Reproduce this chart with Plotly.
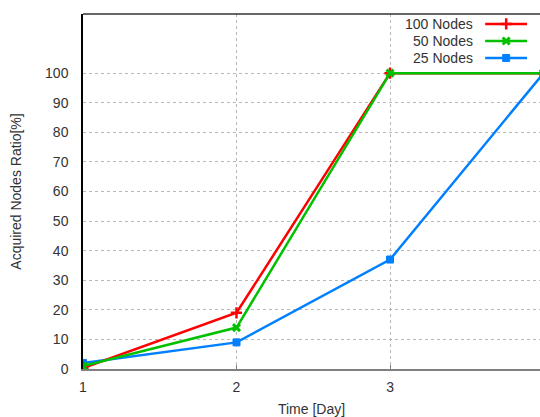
import plotly.graph_objects as go

days = [1, 2, 3, 4]
series_names = ["100 Nodes", "50 Nodes", "25 Nodes"]
nodes100 = [0.3, 19, 100, 100]
nodes50 = [1, 14, 100, 100]
nodes25 = [2, 9, 37, 100]
y_ticks = [0, 10, 20, 30, 40, 50, 60, 70, 80, 90, 100]
x_ticks = [1, 2, 3, 4]

colors = ["#ff0000", "#00c000", "#0080ff"]
symbols = ["cross-thin-open", "x-thin-open", "square"]
msizes = [8, 7, 7]
mlw = [2.5, 3, 1]

fig = go.Figure()
order = [2, 0, 1]
values = [nodes100, nodes50, nodes25]
for i in order:
    fig.add_trace(go.Scatter(
        x=days, y=values[i], mode="lines+markers", name=series_names[i],
        line=dict(color=colors[i], width=2.5),
        marker=dict(symbol=symbols[i], size=msizes[i], color=colors[i],
                    line=dict(color=colors[i], width=mlw[i])),
        showlegend=False, cliponaxis=True))

# gnuplot-like legend (text left of the sample) on overlay axes
leg_y = [0.972, 0.924, 0.876]
for i in range(3):
    fig.add_trace(go.Scatter(
        x=[0.880, 0.9716], y=[leg_y[i], leg_y[i]], mode="lines",
        line=dict(color=colors[i], width=2.5), xaxis="x2", yaxis="y2",
        showlegend=False, hoverinfo="skip"))
    fig.add_trace(go.Scatter(
        x=[0.926], y=[leg_y[i]], mode="markers",
        marker=dict(symbol=symbols[i], size=msizes[i], color=colors[i],
                    line=dict(color=colors[i], width=mlw[i])),
        xaxis="x2", yaxis="y2", showlegend=False, hoverinfo="skip"))
    fig.add_annotation(x=0.858, y=leg_y[i], xref="x2", yref="y2",
                       text=series_names[i], showarrow=False,
                       xanchor="right", yanchor="middle",
                       font=dict(size=14, color="#333333"))

fig.update_layout(
    width=540, height=417,
    margin=dict(l=83, r=0, t=14, b=48),
    paper_bgcolor="white", plot_bgcolor="white",
    font=dict(family="Liberation Sans, Arial, sans-serif", size=14, color="#333333"),
    xaxis=dict(range=[1, 3.977], tickvals=x_ticks, showgrid=True,
               gridcolor="#b8b8b8", griddash="dot", gridwidth=1,
               showline=True, linecolor="#808080", linewidth=2,
               ticks="inside", ticklen=4, tickcolor="#808080",
               zeroline=False, automargin=False, ticklabelstandoff=4,
               title=dict(text="Time [Day]", standoff=11, font=dict(size=14))),
    yaxis=dict(range=[0, 120], tickvals=y_ticks, showgrid=True,
               gridcolor="#b8b8b8", griddash="dot", gridwidth=1,
               showline=True, linecolor="black", linewidth=1.5,
               ticks="", zeroline=False, automargin=False, ticklabelstandoff=10,
               title=dict(text="Acquired Nodes Ratio[%]", standoff=20, font=dict(size=14))),
    xaxis2=dict(range=[0, 1], overlaying="x", visible=False, fixedrange=True),
    yaxis2=dict(range=[0, 1], overlaying="y", visible=False, fixedrange=True),
    shapes=[dict(type="line", xref="paper", yref="paper", x0=0, x1=1, y0=1, y1=1,
                 line=dict(color="#333333", width=1.5))],
)

fig.write_html("out.html", config={"displayModeBar": False},
               post_script="document.body.style.margin='0';document.body.style.overflow='hidden';")
